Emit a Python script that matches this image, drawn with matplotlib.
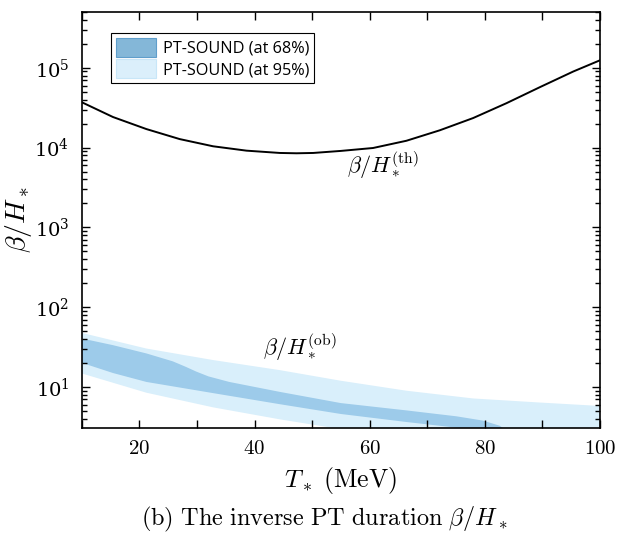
import numpy as np
import matplotlib
matplotlib.use("Agg")
import matplotlib.pyplot as plt
from matplotlib.patches import Patch
from matplotlib.ticker import LogLocator, MultipleLocator, NullFormatter

plt.rcParams['mathtext.fontset'] = 'cm'
plt.rcParams['font.family'] = 'serif'
plt.rcParams['font.serif'] = ['DejaVu Serif']

# theoretical curve beta/H (th)
T_th = [10, 15.4, 21.2, 27.0, 32.8, 38.6, 44.4, 47.3, 50.2, 55.0, 60.6, 66.4, 72.2, 78.0, 83.8, 89.6, 95.4, 100]
b_th = [3.70e4, 2.42e4, 1.71e4, 1.28e4, 1.04e4, 9.17e3, 8.58e3, 8.50e3, 8.58e3, 9.10e3, 9.9e3,
        1.22e4, 1.65e4, 2.35e4, 3.61e4, 5.73e4, 9.0e4, 1.24e5]

# 95% band
T_95_up = [10, 21.2, 32.8, 44.4, 55.0, 66.4, 78.0, 89.6, 100]
up_95 = [47.7, 30.4, 21.8, 16.3, 12.0, 9.0, 7.2, 6.4, 5.8]
T_95_lo = [10, 21.2, 32.8, 44.4, 54.0, 60, 80, 100]
lo_95 = [14.8, 8.5, 5.57, 3.94, 3.05, 2.6, 1.9, 1.5]

# 68% band
T_68_up = [10, 15.4, 21.2, 25.8, 28.0, 29.9, 32.0, 35.6, 44.4, 55.0, 66.4, 75.1, 79.7, 82.6, 84.5]
up_68 = [40.6, 33.5, 26.4, 21.0, 18.0, 15.6, 13.6, 11.6, 8.7, 6.3, 5.1, 4.3, 3.8, 3.28, 2.6]
T_68_lo = [10, 15.4, 21.2, 32.8, 44.4, 55.0, 66.4, 75.1, 84.5]
lo_68 = [20.1, 15.0, 11.6, 8.4, 6.1, 4.6, 3.65, 3.1, 2.6]

fig = plt.figure(figsize=(6.3, 5.36), dpi=100)
ax = fig.add_axes([0.130, 0.2015, 0.822, 0.776])

ax.fill(np.r_[T_95_up, T_95_lo[::-1]], np.r_[up_95, lo_95[::-1]], color='#d9effb', lw=0)
ax.fill(np.r_[T_68_up, T_68_lo[::-1]], np.r_[up_68, lo_68[::-1]], color='#9dcbea', lw=0)
ax.plot(T_th, b_th, color='black', lw=1.4)

ax.set_yscale('log')
ax.set_xlim(10, 100)
ax.set_ylim(3.07, 5.0e5)

ax.xaxis.set_major_locator(MultipleLocator(20))
ax.xaxis.set_minor_locator(MultipleLocator(10))
ax.yaxis.set_major_locator(LogLocator(base=10, numticks=10))
ax.yaxis.set_minor_locator(LogLocator(base=10, subs=np.arange(2, 10), numticks=20))
ax.yaxis.set_minor_formatter(NullFormatter())
ax.tick_params(which='both', direction='in', top=True, right=True, width=1.0)
ax.tick_params(which='major', length=6)
ax.tick_params(which='minor', length=3.5)
ax.tick_params(axis='x', which='minor', length=5.5)
ax.tick_params(axis='y', which='major', labelsize=14, pad=9)
ax.tick_params(axis='x', which='major', labelsize=15, pad=8)
ax.set_xticks([20, 40, 60, 80, 100])
ax.set_xticklabels([r'$\mathrm{20}$', r'$\mathrm{40}$', r'$\mathrm{60}$', r'$\mathrm{80}$', r'$\mathrm{100}$'])
for s in ax.spines.values():
    s.set_linewidth(1.2)

ax.set_xlabel(r'$T_*\ \mathrm{(MeV)}$', fontsize=18.5, labelpad=5)
ax.set_ylabel(r'$\beta/H_*$', fontsize=20, labelpad=0)

ax.text(62.3, 5950, r'$\beta/H_*^{\mathrm{(th)}}$', fontsize=16, ha='center', va='center')
ax.text(47.9, 31, r'$\beta/H_*^{\mathrm{(ob)}}$', fontsize=16, ha='center', va='center')

handles = [Patch(facecolor='#84b7d8', edgecolor='#5f9ecb', lw=0.8, label='PT-SOUND (at 68%)'),
           Patch(facecolor='#dbeffb', edgecolor='#c8e6f8', lw=0.8, label='PT-SOUND (at 95%)')]
leg = ax.legend(handles=handles, loc='upper left', bbox_to_anchor=(0.056, 0.9495),
                prop={'family': 'Open Sans', 'size': 11.7}, frameon=True, fancybox=False,
                edgecolor='black', framealpha=1, borderpad=0.3, handlelength=2.5,
                handleheight=1.45, handletextpad=0.4, labelspacing=0.12, borderaxespad=0)
leg.get_frame().set_linewidth(0.8)

fig.text(0.515, 0.03, r'$\mathrm{(b)\ The\ inverse\ PT\ duration}\ \beta/H_*$',
         fontsize=17.5, ha='center', va='center')

fig.savefig('out.png', dpi=100)
